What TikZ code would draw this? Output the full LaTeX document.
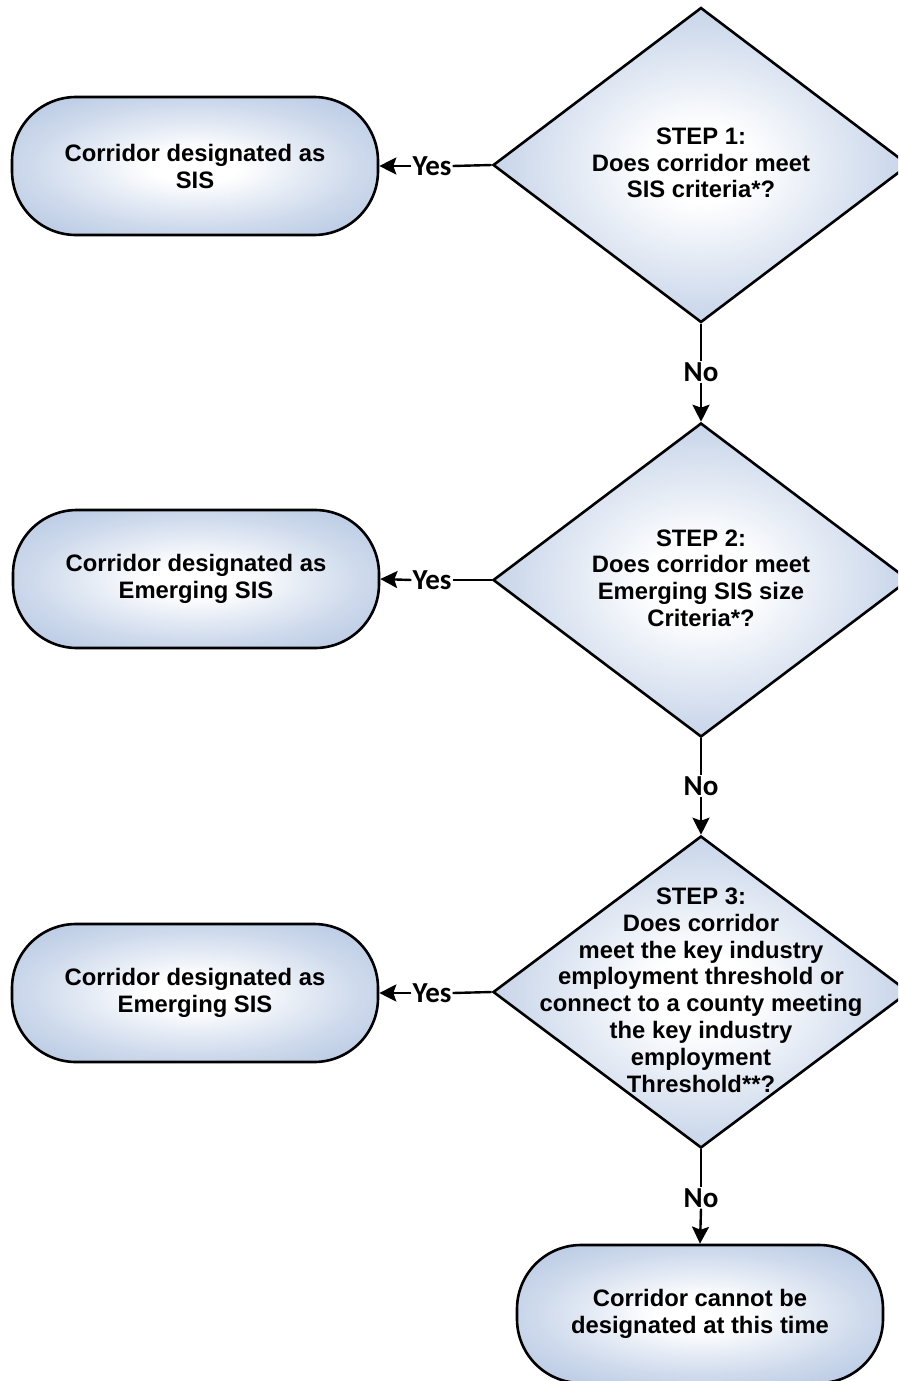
\documentclass[tikz,border=0pt]{standalone}
\usepackage{fontspec}
\setmainfont{Liberation Sans}
\newfontfamily\labfont{Carlito}
\usetikzlibrary{shapes.geometric,arrows.meta}
\definecolor{edgeblue}{RGB}{168,189,221}
\pgfdeclareradialshading{softblue}{\pgfpoint{0bp}{0bp}}{color(0bp)=(white); color(6bp)=(white); color(22bp)=(edgeblue!55!white); color(40bp)=(edgeblue); color(70bp)=(edgeblue)}
\begin{document}
\begin{tikzpicture}[x=1pt,y=-1pt,
  txt/.style={align=center,font=\fontsize{23.8}{27}\selectfont\bfseries},
  box/.style={txt,draw=black,line width=2.6pt,rectangle,rounded corners=64pt,minimum width=366pt,minimum height=138pt,shading=softblue},
  dia/.style={draw=black,line width=2.6pt,diamond,minimum width=416pt,minimum height=315pt,inner sep=0pt,shading=softblue},
  dtext/.style={txt,inner sep=0pt,font=\fontsize{23.8}{26.8}\selectfont\bfseries},
  lab/.style={font=\fontsize{29}{30}\labfont\bfseries,inner sep=1pt},
  conn/.style={line width=2.4pt},
  arr/.style={conn,-{Stealth[length=17pt,width=17pt,inset=3pt]}}
]
\clip (0,0) rectangle (898,1381);
% diamonds
\node[dia] (d1) at (701,165) {};
\node[dtext] (d1t) at (701,163) {STEP 1:\\Does corridor meet\\SIS criteria*?};
\node[dia,minimum height=314pt] (d2) at (701,580) {};
\node[dtext] (d2t) at (701,578) {STEP 2:\\Does corridor meet\\Emerging SIS size\\Criteria*?};
\node[dia,minimum height=312pt] (d3) at (701,992) {};
\node[dtext] (d3t) at (701,990) {STEP 3:\\Does corridor\\meet the key industry\\employment threshold or\\connect to a county meeting\\the key industry\\employment\\Threshold**?};
% terminal boxes
\node[box] (b1) at (195,166) {Corridor designated as\\SIS};
\node[box] (b2) at (196,579) {Corridor designated as\\Emerging SIS};
\node[box] (b3) at (195,993) {Corridor designated as\\Emerging SIS};
\node[box] (b4) at (700,1314) {Corridor cannot be\\designated at this time};
% yes labels
\node[lab] (y1) at (432,166) {Yes};
\node[lab] (y2) at (432,580) {Yes};
\node[lab] (y3) at (432,993) {Yes};
\draw[conn] (d1.west) -- (y1.east);
\draw[arr] (y1.west) -- (b1.east);
\draw[conn] (d2.west) -- (y2.east);
\draw[arr] (y2.west) -- (b2.east);
\draw[conn] (d3.west) -- (y3.east);
\draw[arr] (y3.west) -- (b3.east);
% no labels
\node[lab] (n1) at (701,372) {No};
\node[lab] (n2) at (701,786) {No};
\node[lab] (n3) at (701,1198) {No};
\draw[conn] (d1.south) -- (n1.north);
\draw[arr] (n1.south) -- (d2.north);
\draw[conn] (d2.south) -- (n2.north);
\draw[arr] (n2.south) -- (d3.north);
\draw[conn] (d3.south) -- (n3.north);
\draw[arr] (n3.south) -- (b4.north);
\end{tikzpicture}
\end{document}
